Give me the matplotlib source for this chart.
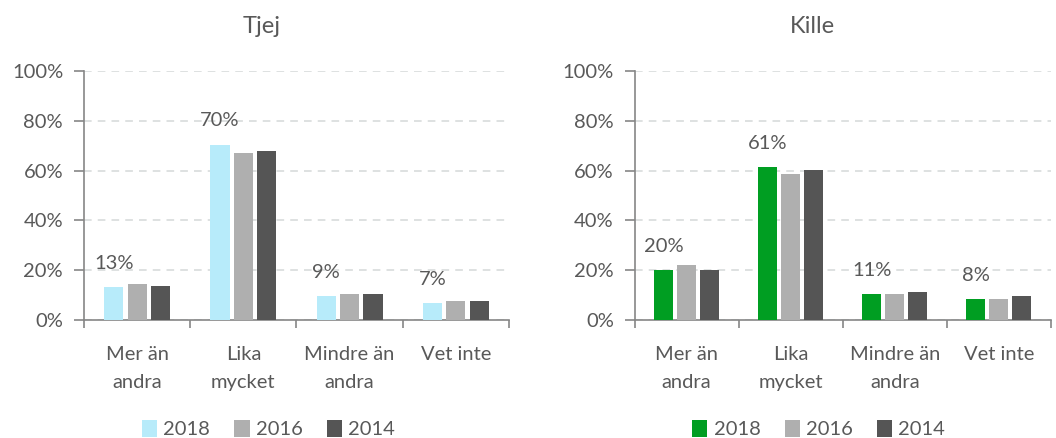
import numpy as np
import matplotlib
matplotlib.use("Agg")
import matplotlib.pyplot as plt
from matplotlib.ticker import FixedLocator, PercentFormatter

plt.rcParams['font.family'] = ['Lato', 'DejaVu Sans']

categories = ['Mer än\nandra', 'Lika\nmycket', 'Mindre än\nandra', 'Vet inte']
years = ['2018', '2016', '2014']

tjej_2018 = [13.1, 70.4, 9.6, 6.8]
tjej_2016 = [14.5, 66.9, 10.3, 7.6]
tjej_2014 = [13.8, 67.7, 10.3, 7.6]
tjej_labels = ['13%', '70%', '9%', '7%']

kille_2018 = [20.1, 61.4, 10.4, 8.3]
kille_2016 = [22.1, 58.8, 10.3, 8.3]
kille_2014 = [20.1, 60.1, 11.1, 9.6]
kille_labels = ['20%', '61%', '11%', '8%']

grey_txt = '#595959'
axis_col = '#868686'


def panel(ax, title, vals, labels, colors, cx):
    x = np.arange(len(categories))
    w = 0.18
    offs = [-0.22, 0, 0.22]
    bars = []
    for v, o, c, yr in zip(vals, offs, colors, years):
        b = ax.bar(x + o, v, w, color=c, label=yr, zorder=3)
        bars.append(b)
    for rect, lab in zip(bars[0], labels):
        ax.annotate(lab, (rect.get_x() + rect.get_width() / 2, rect.get_height()),
                    xytext=(0, 11), textcoords='offset points', ha='center',
                    va='bottom', fontsize=14.5, color=grey_txt)
    ax.set_xlim(-0.5, len(categories) - 0.5)
    ax.set_ylim(0, 100)
    ax.set_yticks(np.arange(0, 101, 20))
    ax.yaxis.set_major_formatter(PercentFormatter(decimals=0))
    ax.set_xticks(x)
    ax.set_xticklabels(categories, linespacing=1.75)
    ax.xaxis.set_minor_locator(FixedLocator(np.arange(-0.5, len(categories), 1)))
    ax.tick_params(axis='x', which='major', length=0, pad=19, labelsize=14.5, labelcolor=grey_txt)
    ax.tick_params(axis='x', which='minor', length=6, color=axis_col, width=1.2)
    ax.tick_params(axis='y', length=7, color=axis_col, width=1.2, labelsize=14.5,
                   labelcolor=grey_txt, pad=8)
    ax.yaxis.grid(True, linestyle=(0, (5, 4)), color='#d5d8d8', linewidth=1.1, zorder=0)
    for s in ['top', 'right']:
        ax.spines[s].set_visible(False)
    for s in ['left', 'bottom']:
        ax.spines[s].set_color(axis_col)
        ax.spines[s].set_linewidth(1.2)
    ax.set_title(title, fontsize=17, color=grey_txt, pad=27, x=cx)
    ax.legend(loc='lower center', bbox_to_anchor=(cx + 0.015, -0.475), ncol=3, frameon=False,
              fontsize=14.5, handlelength=0.75, handleheight=0.9, handletextpad=0.3,
              columnspacing=1.2, labelcolor=grey_txt, borderaxespad=0, borderpad=0)


fig = plt.figure(figsize=(10.56, 4.38), dpi=100)
ax1 = fig.add_axes([0.0795, 0.2694, 0.4025, 0.5685])
ax2 = fig.add_axes([0.601, 0.2694, 0.394, 0.5685])

panel(ax1, 'Tjej', [tjej_2018, tjej_2016, tjej_2014], tjej_labels,
      ['#b7ebfa', '#afafaf', '#555555'], 0.419)
panel(ax2, 'Kille', [kille_2018, kille_2016, kille_2014], kille_labels,
      ['#009e22', '#afafaf', '#555555'], 0.427)

fig.savefig('out.png', dpi=100)
